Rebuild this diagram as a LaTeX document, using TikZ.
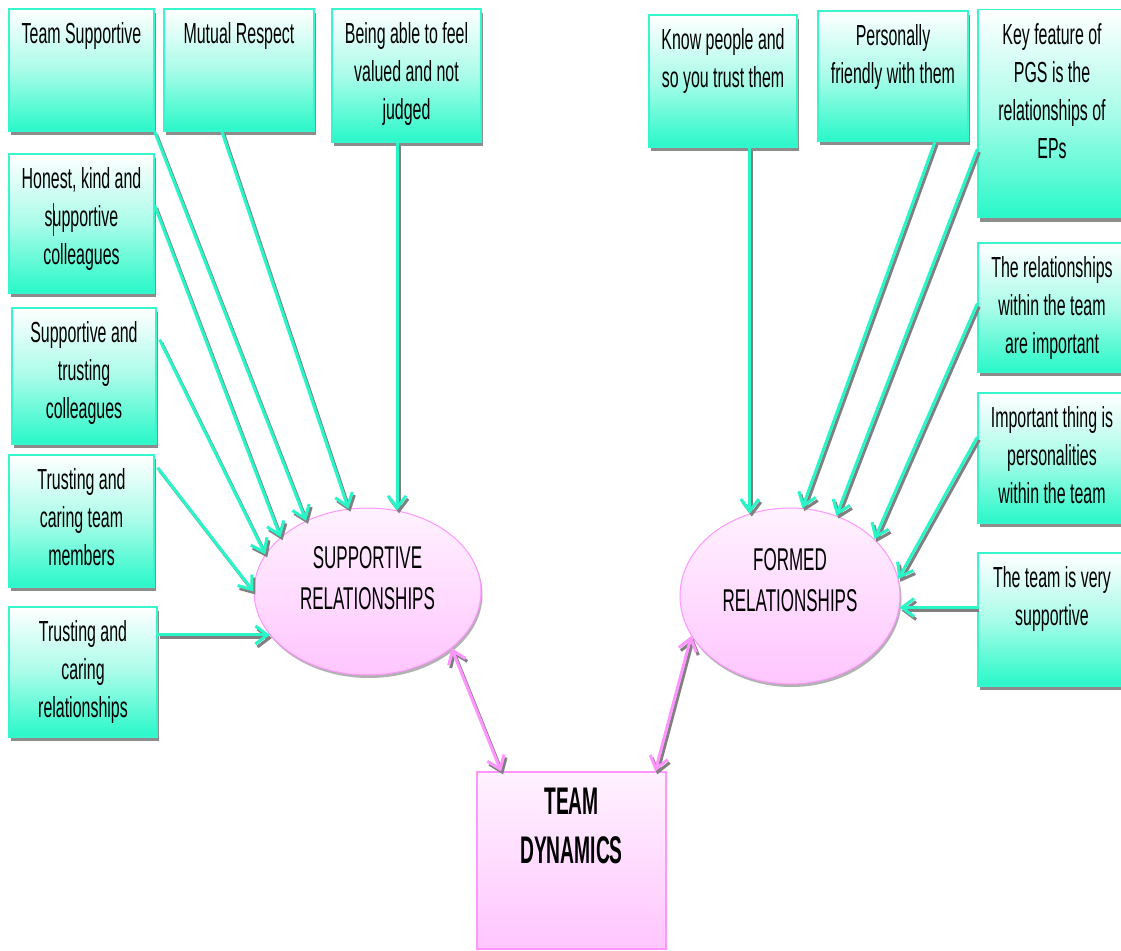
\documentclass[tikz,border=0pt]{standalone}
\usepackage{fontspec}
\newfontfamily\boxfont{Liberation Sans}[FakeStretch=0.55]
\newfontfamily\ellfont{Liberation Sans}[FakeStretch=0.54]
\newfontfamily\teamfont{Liberation Sans}[FakeStretch=0.5]
\usetikzlibrary{arrows.meta,shapes.geometric,shadows,calc}

\definecolor{mint}{RGB}{40,248,200}
\definecolor{mintline}{RGB}{55,245,205}
\definecolor{tealarrow}{RGB}{40,246,200}
\definecolor{shadowgray}{RGB}{128,128,128}
\definecolor{pinktop}{RGB}{255,242,255}
\definecolor{pinkbot}{RGB}{255,198,255}
\definecolor{pinkline}{RGB}{255,150,255}
\definecolor{cursorred}{RGB}{120,0,30}

\tikzset{
  notebox/.style={draw=mintline, line width=1.3pt, shading=axis,
    top color=white, bottom color=mint, middle color=mint!40!white,
    inner sep=0pt,
    drop shadow={shadow xshift=2pt, shadow yshift=-4pt, fill=shadowgray, opacity=0.9}},
  notetext/.style={anchor=north, inner sep=0pt, align=center,
    font=\boxfont\fontsize{29}{38}\selectfont, text=black},
  bubble/.style={ellipse, draw=pinkline, line width=1pt, shading=axis,
    top color=pinktop, bottom color=pinkbot, inner sep=0pt,
    drop shadow={shadow xshift=1.5pt, shadow yshift=-3pt, fill=shadowgray, opacity=0.6}},
  bubbletext/.style={inner sep=0pt, align=center,
    font=\ellfont\fontsize{31.5}{41}\selectfont, text=black},
  teambox/.style={draw=pinkline, line width=1.3pt, shading=axis,
    top color=pinktop, bottom color=pinkbot, inner sep=0pt},
  teamtext/.style={anchor=north, inner sep=0pt, align=center,
    font=\teamfont\bfseries\fontsize{38.5}{49}\selectfont, text=black},
  barb/.tip={Straight Barb[length=12pt,width=18pt]},
  feed/.style={line width=3pt, -barb},
  link/.style={line width=3pt, barb-barb},
  teal ink/.style={draw=tealarrow},
  pink ink/.style={draw=pinkline},
  shade ink/.style={draw=shadowgray},
  line shadow/.style={transform canvas={xshift=2pt,yshift=-3pt}},
}

% box with its text set from the top edge: name, x, y, width, height, text
\newcommand\putnote[6]{%
  \node[notebox, minimum width=#4pt, minimum height=#5pt] (#1) at (#2,#3) {};
  \node[notetext] (#1t) at ([yshift=-14pt]#1.north) {#6};}

% all connectors, drawn in the ink given (#1 for feeds, #2 for links)
\newcommand\connectors[2]{%
  % into supportive relationships
  \draw[feed,#1] (ts.south east) -- (sr.131.5);
  \draw[feed,#1] ([xshift=-17pt]mr.south) -- (sr.103.8);
  \draw[feed,#1] (sr.70.6 |- ba.south) -- (sr.70.6);
  \draw[feed,#1] ($(hk.north east)!0.37!(hk.south east)$) -- (sr.148.1);
  \draw[feed,#1] ($(st.north east)!0.235!(st.south east)+(3,0)$) -- (sr.160.9);
  \draw[feed,#1] ($(tm.north east)!0.1!(tm.south east)+(3,0)$) -- (sr.180.7);
  \draw[feed,#1] (tr.east |- sr.204) -- (sr.204);
  % into formed relationships
  \draw[feed,#1] (fr.116.6 |- kp.south) -- (fr.116.6);
  \draw[feed,#1] ([xshift=42pt]pf.south) -- (fr.82.7);
  \draw[feed,#1] ($(kf.north west)!0.67!(kf.south west)$) -- (fr.60.3);
  \draw[feed,#1] ($(rw.north west)!0.47!(rw.south west)$) -- (fr.34.7);
  \draw[feed,#1] ($(it.north west)!0.34!(it.south west)$) -- (fr.9);
  \draw[feed,#1] (tv.west |- fr.354) -- (fr.354);
  % links with team dynamics
  \draw[link,#2] (sr.326.8) -- ($(td.north west)!0.13!(td.north east)$);
  \draw[link,#2] (fr.202.9) -- ($(td.north west)!0.94!(td.north east)$);
}

\begin{document}
\begin{tikzpicture}[x=1pt, y=-1pt]
\path[use as bounding box, fill=white] (0,0) rectangle (1121,950);
\clip (0,0) rectangle (1121,950);

% left-hand notes
\putnote{ts}{81.5}{70}{145}{122}{Team Supportive}
\putnote{mr}{239}{70}{150}{122}{Mutual Respect}
\putnote{ba}{406.5}{75.5}{149}{133}{Being able to feel\\valued and not\\judged}
\putnote{hk}{81.5}{223.5}{145}{139}{Honest, kind and\\s\rlap{\textcolor{cursorred}{\rule[-9pt]{1pt}{33pt}}}upportive\\colleagues}
\putnote{st}{84}{376}{144}{136}{Supportive and\\trusting\\colleagues}
\putnote{tm}{81.5}{521}{145}{132}{Trusting and\\caring team\\members}
\putnote{tr}{83}{672}{148}{130}{Trusting and\\caring\\relationships}

% right-hand notes
\putnote{kp}{723}{81}{148}{132}{Know people and\\so you trust them}
\putnote{pf}{893}{76}{150}{130}{Personally\\friendly with them}
\putnote{kf}{1052}{113.5}{148}{208}{Key feature of\\PGS is the\\relationships of\\EPs}
\putnote{rw}{1052}{307.5}{148}{129}{The relationships\\within the team\\are important}
\putnote{it}{1052}{458}{148}{130}{Important thing is\\personalities\\within the team}
\putnote{tv}{1052}{619.5}{148}{133}{The team is very\\supportive}

% the two relationship bubbles
\node[bubble, minimum width=227pt, minimum height=167pt] (sr) at (367.5,591.5) {};
\node[bubbletext] (srt) at ([yshift=13pt]sr.center) {SUPPORTIVE\\RELATIONSHIPS};
\node[bubble, minimum width=220pt, minimum height=176pt] (fr) at (790,596) {};
\node[bubbletext] (frt) at ([yshift=15.5pt]fr.center) {FORMED\\RELATIONSHIPS};

% central box
\node[teambox, minimum width=189pt, minimum height=177pt] (td) at (571.5,860.5) {};
\node[teamtext] (tdt) at ([yshift=-16pt]td.north) {TEAM\\DYNAMICS};

% connector shadows first, then the connectors themselves
\begin{scope}[line shadow]
  \connectors{shade ink}{shade ink}
\end{scope}
\connectors{teal ink}{pink ink}
\end{tikzpicture}
\end{document}
